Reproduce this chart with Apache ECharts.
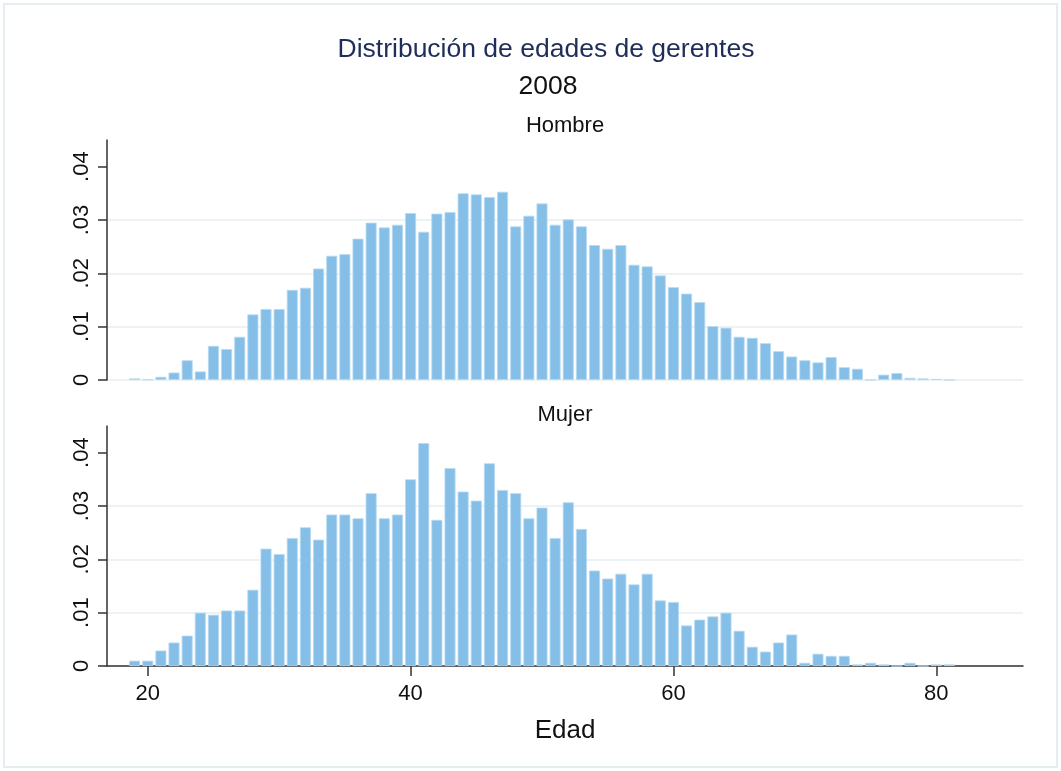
<!DOCTYPE html>
<html>
<head>
<meta charset="utf-8">
<script src="https://cdn.jsdelivr.net/npm/echarts@6/dist/echarts.min.js"></script>
<style>
  html, body { margin: 0; padding: 0; background: #fff; }
  #chart { width: 1061px; height: 771px; }
</style>
</head>
<body>
<div id="chart"></div>
<script>
const ages = [19, 20, 21, 22, 23, 24, 25, 26, 27, 28, 29, 30, 31, 32, 33, 34, 35, 36, 37, 38,
  39, 40, 41, 42, 43, 44, 45, 46, 47, 48, 49, 50, 51, 52, 53, 54, 55, 56, 57, 58,
  59, 60, 61, 62, 63, 64, 65, 66, 67, 68, 69, 70, 71, 72, 73, 74, 75, 76, 77, 78,
  79, 80, 81];

const hombre = [0.0003, 0.0001, 0.0006, 0.0014, 0.0037, 0.0016, 0.0064, 0.0058, 0.0081, 0.0123,
  0.0133, 0.0133, 0.0169, 0.0173, 0.0209, 0.0233, 0.0236, 0.0265, 0.0295, 0.0286,
  0.0291, 0.0313, 0.0278, 0.0312, 0.0315, 0.035, 0.0348, 0.0343, 0.0353, 0.0288,
  0.0308, 0.0331, 0.0291, 0.0301, 0.0288, 0.0253, 0.0246, 0.0253, 0.0216, 0.0213,
  0.0196, 0.0174, 0.0162, 0.0146, 0.0101, 0.0098, 0.0081, 0.0079, 0.0069, 0.0054,
  0.0044, 0.0037, 0.0033, 0.0043, 0.0024, 0.0021, 0, 0.001, 0.0013, 0.0004,
  0.0003, 0.0002, 0];

const mujer = [0.001, 0.001, 0.0029, 0.0044, 0.0057, 0.01, 0.0096, 0.0104, 0.0104, 0.0143,
  0.022, 0.021, 0.024, 0.026, 0.0237, 0.0284, 0.0284, 0.0277, 0.0324, 0.0277,
  0.0284, 0.035, 0.0418, 0.0274, 0.0371, 0.0327, 0.031, 0.038, 0.033, 0.0324,
  0.0277, 0.0297, 0.024, 0.0307, 0.0257, 0.0179, 0.0164, 0.0173, 0.0153, 0.0173,
  0.0123, 0.012, 0.0076, 0.0087, 0.0093, 0.01, 0.0066, 0.0036, 0.0027, 0.0044,
  0.0059, 0.0006, 0.0023, 0.0019, 0.0019, 0.0003, 0.0006, 0.0003, 0, 0.0006,
  0, 0.0003, 0.0003];

const yTicks = [0, 0.01, 0.02, 0.03, 0.04];
const xTicks = [20, 40, 60, 80];

const FONT = "'Liberation Sans', Arial, sans-serif";
const BAR_COLOR = "#85bfe8";

function pairs(values) {
  return ages.map((age, i) => [age, values[i]]);
}

function fmtY(v) {
  if (v === 0) return "0";
  return v.toFixed(2).replace(/^0/, "");
}

function yAxisFor(gridIndex) {
  return {
    type: "value",
    gridIndex,
    min: 0,
    max: 0.045,
    axisLine: { show: true, lineStyle: { color: "#333", width: 1.5 } },
    axisTick: { show: true, length: 9, customValues: yTicks, lineStyle: { color: "#333", width: 1.5 } },
    axisLabel: {
      customValues: yTicks,
      rotate: 90,
      margin: 14,
      color: "#111",
      fontSize: 22,
      fontFamily: FONT,
      formatter: fmtY
    },
    splitLine: {
      show: true,
      showMaxLine: false,
      lineStyle: { color: "#edf2f4", width: 2 }
    }
  };
}

const chart = echarts.init(document.getElementById("chart"), null, { renderer: "canvas" });

chart.setOption({
  backgroundColor: "#fff",
  animation: false,
  title: [
    {
      text: "Distribución de edades de gerentes",
      left: 541, top: 31, textAlign: "center",
      textStyle: { color: "#1f2d5a", fontSize: 26.5, fontWeight: "normal", fontFamily: FONT }
    },
    {
      text: "2008",
      left: 543, top: 68, textAlign: "center",
      textStyle: { color: "#111", fontSize: 26.5, fontWeight: "normal", fontFamily: FONT }
    },
    {
      text: "Hombre",
      left: 560, top: 110, textAlign: "center",
      textStyle: { color: "#111", fontSize: 22, fontWeight: "normal", fontFamily: FONT }
    },
    {
      text: "Mujer",
      left: 560, top: 399, textAlign: "center",
      textStyle: { color: "#111", fontSize: 22, fontWeight: "normal", fontFamily: FONT }
    }
  ],
  graphic: [
    {
      type: "rect",
      shape: { x: 4, y: 4, width: 1053, height: 763 },
      style: { fill: "none", stroke: "#e6edf1", lineWidth: 2 },
      silent: true
    }
  ],
  grid: [
    { left: 107, width: 916, top: 140, height: 240 },
    { left: 107, width: 916, top: 426, height: 240 }
  ],
  xAxis: [
    {
      type: "value",
      gridIndex: 0,
      min: 16.9,
      max: 86.6,
      axisLine: { show: false },
      axisTick: { show: false },
      axisLabel: { show: false },
      splitLine: { show: false }
    },
    {
      type: "value",
      gridIndex: 1,
      min: 16.9,
      max: 86.6,
      name: "Edad",
      nameLocation: "middle",
      nameGap: 52,
      nameTextStyle: { color: "#111", fontSize: 26, fontFamily: FONT },
      axisLine: { show: true, lineStyle: { color: "#333", width: 1.5 } },
      axisTick: { show: true, length: 10, customValues: xTicks, lineStyle: { color: "#333", width: 1.5 } },
      axisLabel: { customValues: xTicks, margin: 17, color: "#111", fontSize: 22, fontFamily: FONT },
      splitLine: { show: false }
    }
  ],
  yAxis: [yAxisFor(0), yAxisFor(1)],
  series: [
    {
      type: "bar",
      name: "Hombre",
      xAxisIndex: 0,
      yAxisIndex: 0,
      barWidth: 11,
      itemStyle: { color: BAR_COLOR, borderColor: "#b7daf2", borderWidth: 0.8 },
      data: pairs(hombre)
    },
    {
      type: "bar",
      name: "Mujer",
      xAxisIndex: 1,
      yAxisIndex: 1,
      barWidth: 11,
      itemStyle: { color: BAR_COLOR, borderColor: "#b7daf2", borderWidth: 0.8 },
      data: pairs(mujer)
    }
  ]
});
</script>
</body>
</html>
